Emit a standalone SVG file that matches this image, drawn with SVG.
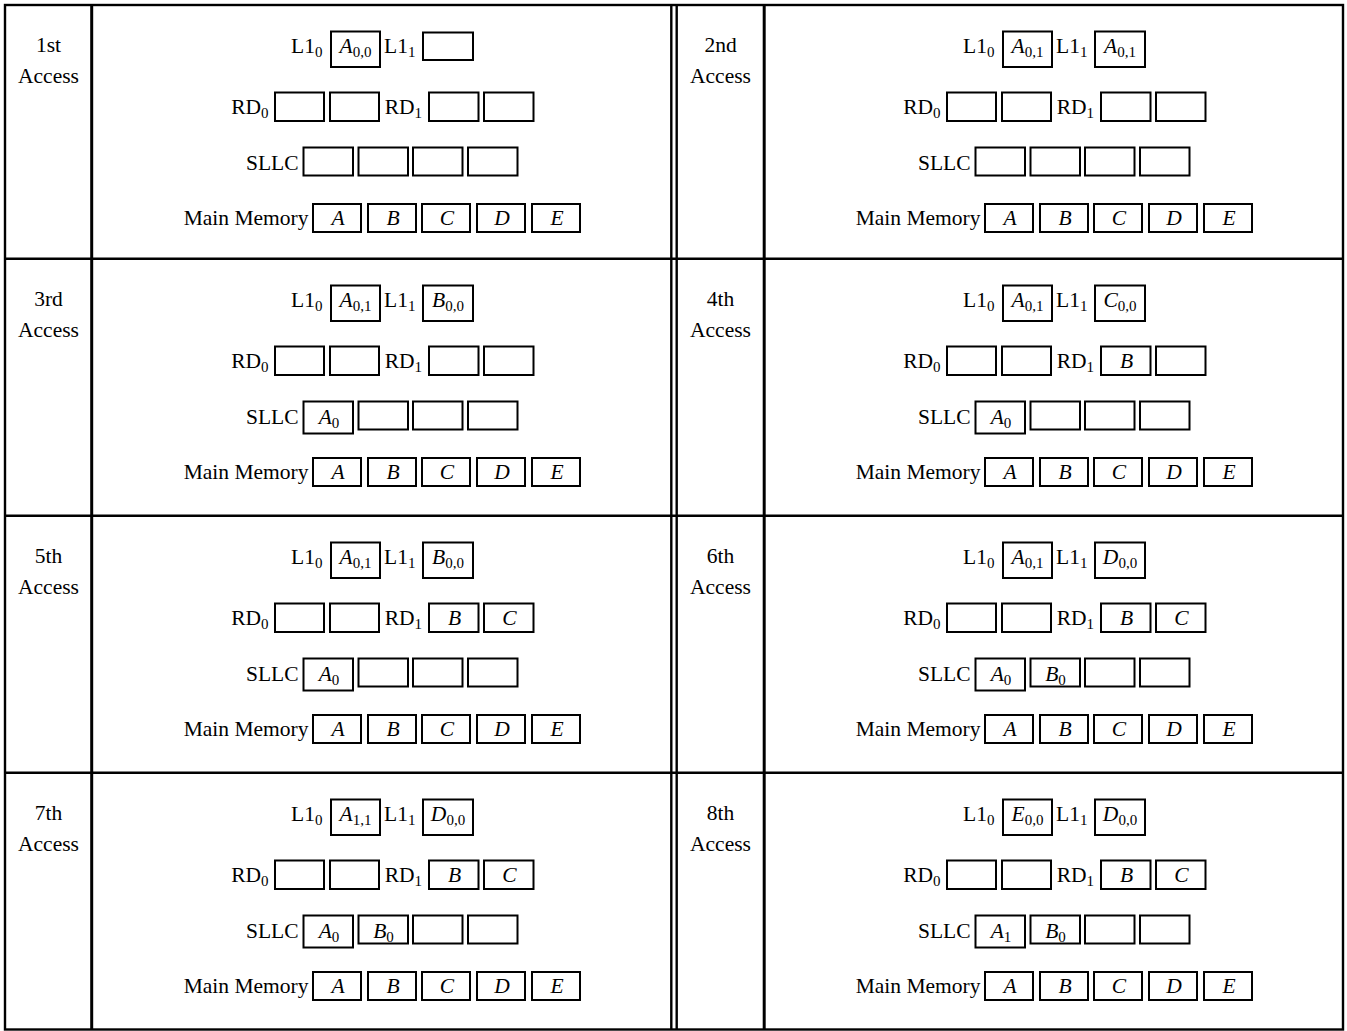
<svg xmlns="http://www.w3.org/2000/svg" width="1347" height="1031" viewBox="0 0 1347 1031">
<style>
.t{font-family:"Liberation Serif","Times New Roman",serif;font-size:21.5px;fill:#000}
.m{text-anchor:middle}
.e{text-anchor:end}
.i{font-style:italic}
.s{font-size:15px;font-style:normal}
.b{fill:none;stroke:#000;stroke-width:2}
.g{fill:none;stroke:#000;stroke-width:2.4}
.gt{fill:none;stroke:#000;stroke-width:3}
</style>
<rect width="1347" height="1031" fill="#fff"/>
<g id="connectors">
<rect class="g" x="5" y="5" width="1338" height="1024.5"/>
<line class="g" x1="5" y1="258.7" x2="1343" y2="258.7"/>
<line class="g" x1="5" y1="515.7" x2="1343" y2="515.7"/>
<line class="g" x1="5" y1="772.7" x2="1343" y2="772.7"/>
<line class="gt" x1="91.7" y1="5" x2="91.7" y2="1029.5"/>
<line class="g" x1="671.3" y1="5" x2="671.3" y2="1029.5"/>
<line class="g" x1="676.7" y1="5" x2="676.7" y2="1029.5"/>
<line class="gt" x1="764.2" y1="5" x2="764.2" y2="1029.5"/>
</g>
<defs>
<g id="frame">
<text class="t e" x="322.5" y="52.5">L1<tspan class="s" dy="4">0</tspan></text>
<text class="t e" x="415.5" y="52.5">L1<tspan class="s" dy="4">1</tspan></text>
<text class="t e" x="268.5" y="114">RD<tspan class="s" dy="4">0</tspan></text>
<text class="t e" x="422" y="114">RD<tspan class="s" dy="4">1</tspan></text>
<rect class="b" x="275" y="92.5" width="49" height="28.5"/>
<rect class="b" x="330" y="92.5" width="49" height="28.5"/>
<rect class="b" x="429" y="92.5" width="49.5" height="28.5"/>
<rect class="b" x="484" y="92.5" width="49.5" height="28.5"/>
<text class="t e" x="298.5" y="169.5">SLLC</text>
<rect class="b" x="358.5" y="147.5" width="49.5" height="28"/>
<rect class="b" x="413" y="147.5" width="49.5" height="28"/>
<rect class="b" x="468" y="147.5" width="49.5" height="28"/>
<text class="t e" x="308.5" y="225">Main Memory</text>
<rect class="b" x="313" y="204" width="48" height="28"/>
<rect class="b" x="368" y="204" width="48" height="28"/>
<rect class="b" x="422" y="204" width="48" height="28"/>
<rect class="b" x="477" y="204" width="48" height="28"/>
<rect class="b" x="532" y="204" width="48" height="28"/>
<text class="t i m" x="338" y="225">A</text>
<text class="t i m" x="393" y="225">B</text>
<text class="t i m" x="447" y="225">C</text>
<text class="t i m" x="502" y="225">D</text>
<text class="t i m" x="557" y="225">E</text>
<rect class="b" x="331" y="31.5" width="49" height="35.5"/>
</g>
</defs>

<g id="p1">
<use href="#frame"/>
<text class="t m" x="48.5" y="51.7">1st</text>
<text class="t m" x="48.5" y="83.3">Access</text>
<text class="t i m" x="355.5" y="52.5">A<tspan class="s" dy="4">0,0</tspan></text>
<rect class="b" x="423" y="32.5" width="50" height="27.5"/>
<rect class="b" x="303.5" y="147.5" width="49.5" height="28"/>
</g>

<g id="p2" transform="translate(672,0)">
<use href="#frame"/>
<text class="t m" x="48.5" y="51.7">2nd</text>
<text class="t m" x="48.5" y="83.3">Access</text>
<text class="t i m" x="355.5" y="52.5">A<tspan class="s" dy="4">0,1</tspan></text>
<rect class="b" x="423" y="31.5" width="50" height="35.5"/>
<text class="t i m" x="448" y="52.5">A<tspan class="s" dy="4">0,1</tspan></text>
<rect class="b" x="303.5" y="147.5" width="49.5" height="28"/>
</g>

<g id="p3" transform="translate(0,254)">
<use href="#frame"/>
<text class="t m" x="48.5" y="51.7">3rd</text>
<text class="t m" x="48.5" y="83.3">Access</text>
<text class="t i m" x="355.5" y="52.5">A<tspan class="s" dy="4">0,1</tspan></text>
<rect class="b" x="423" y="31.5" width="50" height="35.5"/>
<text class="t i m" x="448" y="52.5">B<tspan class="s" dy="4">0,0</tspan></text>
<rect class="b" x="303.5" y="147.5" width="49.5" height="32"/>
<text class="t i m" x="329" y="169.5">A<tspan class="s" dy="4">0</tspan></text>
</g>

<g id="p4" transform="translate(672,254)">
<use href="#frame"/>
<text class="t m" x="48.5" y="51.7">4th</text>
<text class="t m" x="48.5" y="83.3">Access</text>
<text class="t i m" x="355.5" y="52.5">A<tspan class="s" dy="4">0,1</tspan></text>
<rect class="b" x="423" y="31.5" width="50" height="35.5"/>
<text class="t i m" x="448" y="52.5">C<tspan class="s" dy="4">0,0</tspan></text>
<text class="t i m" x="454.5" y="114">B</text>
<rect class="b" x="303.5" y="147.5" width="49.5" height="32"/>
<text class="t i m" x="329" y="169.5">A<tspan class="s" dy="4">0</tspan></text>
</g>

<g id="p5" transform="translate(0,511)">
<use href="#frame"/>
<text class="t m" x="48.5" y="51.7">5th</text>
<text class="t m" x="48.5" y="83.3">Access</text>
<text class="t i m" x="355.5" y="52.5">A<tspan class="s" dy="4">0,1</tspan></text>
<rect class="b" x="423" y="31.5" width="50" height="35.5"/>
<text class="t i m" x="448" y="52.5">B<tspan class="s" dy="4">0,0</tspan></text>
<text class="t i m" x="454.5" y="114">B</text>
<text class="t i m" x="509.5" y="114">C</text>
<rect class="b" x="303.5" y="147.5" width="49.5" height="32"/>
<text class="t i m" x="329" y="169.5">A<tspan class="s" dy="4">0</tspan></text>
</g>

<g id="p6" transform="translate(672,511)">
<use href="#frame"/>
<text class="t m" x="48.5" y="51.7">6th</text>
<text class="t m" x="48.5" y="83.3">Access</text>
<text class="t i m" x="355.5" y="52.5">A<tspan class="s" dy="4">0,1</tspan></text>
<rect class="b" x="423" y="31.5" width="50" height="35.5"/>
<text class="t i m" x="448" y="52.5">D<tspan class="s" dy="4">0,0</tspan></text>
<text class="t i m" x="454.5" y="114">B</text>
<text class="t i m" x="509.5" y="114">C</text>
<rect class="b" x="303.5" y="147.5" width="49.5" height="32"/>
<text class="t i m" x="329" y="169.5">A<tspan class="s" dy="4">0</tspan></text>
<text class="t i m" x="383.5" y="169.5">B<tspan class="s" dy="4">0</tspan></text>
</g>

<g id="p7" transform="translate(0,768)">
<use href="#frame"/>
<text class="t m" x="48.5" y="51.7">7th</text>
<text class="t m" x="48.5" y="83.3">Access</text>
<text class="t i m" x="355.5" y="52.5">A<tspan class="s" dy="4">1,1</tspan></text>
<rect class="b" x="423" y="31.5" width="50" height="35.5"/>
<text class="t i m" x="448" y="52.5">D<tspan class="s" dy="4">0,0</tspan></text>
<text class="t i m" x="454.5" y="114">B</text>
<text class="t i m" x="509.5" y="114">C</text>
<rect class="b" x="303.5" y="147.5" width="49.5" height="32"/>
<text class="t i m" x="329" y="169.5">A<tspan class="s" dy="4">0</tspan></text>
<text class="t i m" x="383.5" y="169.5">B<tspan class="s" dy="4">0</tspan></text>
</g>

<g id="p8" transform="translate(672,768)">
<use href="#frame"/>
<text class="t m" x="48.5" y="51.7">8th</text>
<text class="t m" x="48.5" y="83.3">Access</text>
<text class="t i m" x="355.5" y="52.5">E<tspan class="s" dy="4">0,0</tspan></text>
<rect class="b" x="423" y="31.5" width="50" height="35.5"/>
<text class="t i m" x="448" y="52.5">D<tspan class="s" dy="4">0,0</tspan></text>
<text class="t i m" x="454.5" y="114">B</text>
<text class="t i m" x="509.5" y="114">C</text>
<rect class="b" x="303.5" y="147.5" width="49.5" height="32"/>
<text class="t i m" x="329" y="169.5">A<tspan class="s" dy="4">1</tspan></text>
<text class="t i m" x="383.5" y="169.5">B<tspan class="s" dy="4">0</tspan></text>
</g>
</svg>
